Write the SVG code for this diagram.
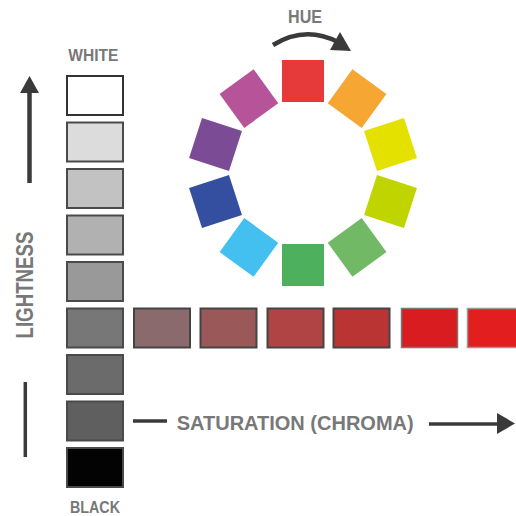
<svg xmlns="http://www.w3.org/2000/svg" width="516" height="516" viewBox="0 0 516 516">
<style>
.lbl{font-family:"Liberation Sans",Arial,sans-serif;font-weight:bold;fill:#787878}
.g{stroke:#4a4a4a;stroke-width:2}
.r{stroke:#444;stroke-width:2}
.ln{stroke:#3a3a3a;fill:none}
</style>
<rect width="516" height="516" fill="#fff"/>
<g id="connectors">
<line class="ln" x1="29.5" y1="92" x2="29.5" y2="183" stroke-width="4.5"/>
<polygon points="20,93 39,93 29.5,76" fill="#3a3a3a"/>
<line class="ln" x1="25.3" y1="382" x2="25.3" y2="457" stroke-width="3.5"/>
<line class="ln" x1="133" y1="421" x2="167" y2="421" stroke-width="3.5"/>
<line class="ln" x1="429" y1="424" x2="499" y2="424" stroke-width="3.5"/>
<polygon points="497,413 497,434 515,423.5" fill="#3a3a3a"/>
<path class="ln" d="M273 45 Q305 25 338 42" stroke-width="4.5"/>
<polygon points="330,50 340,32 351,51" fill="#3a3a3a"/>
</g>
<g id="labels">
<text class="lbl" x="68.3" y="60.7" font-size="17" textLength="50" lengthAdjust="spacingAndGlyphs">WHITE</text>
<text class="lbl" x="70" y="513.3" font-size="16" textLength="50" lengthAdjust="spacingAndGlyphs">BLACK</text>
<text class="lbl" x="288" y="22.7" font-size="17.5" textLength="34" lengthAdjust="spacingAndGlyphs">HUE</text>
<text class="lbl" x="176.7" y="430" font-size="20.5" textLength="237" lengthAdjust="spacingAndGlyphs">SATURATION (CHROMA)</text>
<text class="lbl" transform="translate(33.3 285) rotate(-90)" x="0" y="0" text-anchor="middle" font-size="23" textLength="107" lengthAdjust="spacingAndGlyphs">LIGHTNESS</text>
</g>
<g id="lightness">
<rect id="g1" x="67" y="76" width="56" height="39" fill="#fff" stroke="#333" stroke-width="2"/>
<rect id="g2" class="g" x="67" y="122.5" width="56" height="39" fill="#dcdcdc"/>
<rect id="g3" class="g" x="67" y="169" width="56" height="39" fill="#c2c2c2"/>
<rect id="g4" class="g" x="67" y="215.5" width="56" height="39" fill="#b1b1b1"/>
<rect id="g5" class="g" x="67" y="262" width="56" height="39" fill="#999"/>
<rect id="g6" class="g" x="67" y="308.5" width="56" height="39" fill="#777"/>
<rect id="g7" class="g" x="67" y="355" width="56" height="39" fill="#6b6b6b"/>
<rect id="g8" class="g" x="67" y="401.5" width="56" height="39" fill="#5f5f5f"/>
<rect id="g9" class="g" x="67" y="448" width="56" height="39" fill="#030303" stroke="#555"/>
</g>
<g id="saturation">
<rect id="s1" class="r" x="134" y="308.5" width="56" height="39" fill="#8a6a6c"/>
<rect id="s2" class="r" x="200.5" y="308.5" width="56" height="39" fill="#9a5858"/>
<rect id="s3" class="r" x="267.5" y="308.5" width="56" height="39" fill="#b04444"/>
<rect id="s4" class="r" x="333.5" y="308.5" width="56" height="39" fill="#bb3434"/>
<rect id="s5" x="401.5" y="308.5" width="56" height="39" fill="#d91c1f" stroke="#777" stroke-width="1.5"/>
<rect id="s6" x="467.5" y="308.5" width="56" height="39" fill="#e31e1e" stroke="#999" stroke-width="1.5"/>
</g>
<g id="hue">
<rect id="h0" x="282" y="60" width="42" height="42" fill="#e63939"/>
<rect id="h1" x="282" y="60" width="42" height="42" fill="#f6a632" transform="rotate(36 303 173)"/>
<rect id="h2" x="282" y="60" width="42" height="42" fill="#e4e000" transform="rotate(72 303 173)"/>
<rect id="h3" x="282" y="60" width="42" height="42" fill="#c0d400" transform="rotate(108 303 173)"/>
<rect id="h4" x="282" y="60" width="42" height="42" fill="#72b965" transform="rotate(144 303 173)"/>
<rect id="h5" x="282" y="60" width="42" height="42" fill="#4db05c" transform="rotate(180 303 173)"/>
<rect id="h6" x="282" y="60" width="42" height="42" fill="#43c0ef" transform="rotate(216 303 173)"/>
<rect id="h7" x="282" y="60" width="42" height="42" fill="#344f9f" transform="rotate(252 303 173)"/>
<rect id="h8" x="282" y="60" width="42" height="42" fill="#7b4c95" transform="rotate(288 303 173)"/>
<rect id="h9" x="282" y="60" width="42" height="42" fill="#b75398" transform="rotate(324 303 173)"/>
</g>
</svg>
